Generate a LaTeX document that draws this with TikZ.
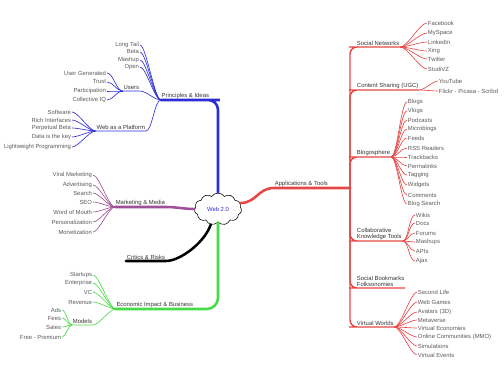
\documentclass[tikz,border=0pt]{standalone}
\usepackage{fontspec}
\setmainfont{Liberation Sans}
\usetikzlibrary{shapes.symbols}
\definecolor{mmred}{RGB}{230,70,70}
\definecolor{mmblue}{RGB}{45,45,215}
\definecolor{mmpurple}{RGB}{160,80,150}
\definecolor{mmgreen}{RGB}{70,220,70}
\begin{document}
\begin{tikzpicture}[x=0.025cm,y=-0.025cm,
    lab/.style={font=\fontsize{4.2}{4.6}\selectfont, inner sep=0.5pt, text=black!80, align=left},
    leaf/.style={lab, text=black!65},
    limb/.style={line width=1.8pt, line cap=round},
    stem/.style={line width=1pt, rounded corners=5pt},
    twig/.style={line width=0.45pt}]
\useasboundingbox (0,0) rectangle (504,365);

% centre
\node[cloud, draw, cloud puffs=11, cloud puff arc=115, aspect=1.6,
      minimum width=1.18cm, minimum height=0.8cm, inner sep=0pt,
      font=\fontsize{4.2}{5}\selectfont, text=mmblue] (web) at (218,209) {Web 2.0};

% right side
\node[lab, anchor=south west] (red) at (274,188) {Applications \& Tools};
\coordinate (rt) at (350,188);
\draw[limb, mmred] (web.15) .. controls +(16,0) and +(-16,0) .. (red.south west) -- (red.south east) -- (rt);

\node[lab, anchor=south west] (r1) at (356,47) {Social Networks};
\node[lab, anchor=south west] (r2) at (356,90) {Content Sharing (UGC)};
\node[lab, anchor=south west] (r3) at (356,157) {Blogosphere};
\node[lab, anchor=south west] (r4) at (356,241) {Collaborative\\Knowledge Tools};
\node[lab, anchor=south west] (r5) at (356,288) {Social Bookmarks\\Folksonomies};
\node[lab, anchor=south west] (r6) at (356,327) {Virtual Worlds};
\foreach \b in {r1,r2,r3,r4,r5,r6}
  \draw[stem, mmred] (rt) |- (\b.south west) -- (\b.south east);

\foreach \y/\t [count=\i] in {23/Facebook, 33/MySpace, 42/LinkedIn, 51/Xing, 59/Twitter, 69/StudiVZ}{
  \node[leaf, anchor=west] (r1-\i) at (427,\y) {\t};
  \draw[twig, mmred] (r1.south east) .. controls +(7,0) and +(-7,0) .. (r1-\i.west);
}
\foreach \y/\t [count=\i] in {81/YouTube, 91/Flickr - Picasa - Scribd}{
  \node[leaf, anchor=west] (r2-\i) at (438,\y) {\t};
  \draw[twig, mmred] (r2.south east) .. controls +(5,0) and +(-5,0) .. (r2-\i.west);
}
\foreach \y/\t [count=\i] in {102/Blogs, 111/Vlogs, 120/Podcasts, 129/Microblogs, 138/Feeds,
    148/RSS Readers, 157/Trackbacks, 166/Permalinks, 175/Tagging, 185/Widgets,
    195/Comments, 204/Blog Search}{
  \node[leaf, anchor=west] (r3-\i) at (407,\y) {\t};
  \draw[twig, mmred] (r3.south east) .. controls +(6,0) and +(-6,0) .. (r3-\i.west);
}
\foreach \y/\t [count=\i] in {215/Wikis, 223/Docs, 233/Forums, 242/Mashups, 251/APIs, 261/Ajax}{
  \node[leaf, anchor=west] (r4-\i) at (415,\y) {\t};
  \draw[twig, mmred] (r4.south east) .. controls +(6,0) and +(-6,0) .. (r4-\i.west);
}
\foreach \y/\t [count=\i] in {292/Second Life, 302/Web Games, 312/Avatars (3D), 320/Metaverse,
    328/Virtual Economies, 337/Online Communities (MMO), 346/Simulations, 355/Virtual Events}{
  \node[leaf, anchor=west] (r6-\i) at (417,\y) {\t};
  \draw[twig, mmred] (r6.south east) .. controls +(6,0) and +(-6,0) .. (r6-\i.west);
}

% left side
\node[lab, anchor=south east] (blue) at (210,100) {Principles \& Ideas};
\draw[limb, mmblue, rounded corners=7pt] (web.north) |- (blue.south east) -- (blue.south west);
\node[lab, anchor=south east] (b1) at (140,91) {Users};
\node[lab, anchor=south east] (b2) at (146,131) {Web as a Platform};
\foreach \b in {b1,b2}
  \draw[twig, mmblue] (blue.south west) .. controls +(-6,0) and +(6,0) .. (\b.south east) -- (\b.south west);
\foreach \y/\t [count=\i] in {45/Long Tail, 52/Beta, 60/Mashup, 67/Open}{
  \node[leaf, anchor=east] (b0-\i) at (140,\y) {\t};
  \draw[twig, mmblue] (blue.south west) .. controls +(-6,0) and +(6,0) .. (b0-\i.east);
}
\foreach \y/\t [count=\i] in {73/User Generated, 82/Trust, 91/Participation, 100/Collective IQ}{
  \node[leaf, anchor=east] (b1-\i) at (107,\y) {\t};
  \draw[twig, mmblue] (b1.south west) .. controls +(-6,0) and +(6,0) .. (b1-\i.east);
}
\foreach \y/\t [count=\i] in {112/Software, 120/Rich Interfaces, 128/Perpetual Beta,
    137/Data is the key, 147/Lightweight Programming}{
  \node[leaf, anchor=east] (b2-\i) at (72,\y) {\t};
  \draw[twig, mmblue] (b2.south west) .. controls +(-6,0) and +(6,0) .. (b2-\i.east);
}

\node[lab, anchor=south east] (purple) at (166,207) {Marketing \& Media};
\draw[limb, mmpurple] (web.west) .. controls +(-10,0) and +(10,0) .. (purple.south east) -- (purple.south west);
\foreach \y/\t [count=\i] in {175/Viral Marketing, 185/Advertising, 193/Search, 202/SEO/SEM,
    212/Word of Mouth, 222/Personalization, 232/Monetization}{
  \node[leaf, anchor=east] (p-\i) at (93,\y) {\t};
  \draw[twig, mmpurple] (purple.south west) .. controls +(-6,0) and +(6,0) .. (p-\i.east);
}

\node[lab, anchor=south east] (crit) at (166,261) {Critics \& Risks};
\draw[limb, black] (web.245) .. controls +(-6,18) and +(14,0) .. (crit.south east) -- (crit.south west);

\node[lab, anchor=south east] (green) at (194,309) {Economic Impact \& Business};
\draw[limb, mmgreen, rounded corners=8pt] (web.south) |- (green.south east) -- (green.south west);
\node[lab, anchor=south east] (g5) at (93,325) {Models};
\draw[twig, mmgreen] (green.south west) .. controls +(-6,0) and +(6,0) .. (g5.south east) -- (g5.south west);
\foreach \y/\t [count=\i] in {275/Startups, 283/Enterprise, 292/VC, 302/Revenue}{
  \node[leaf, anchor=east] (g-\i) at (93,\y) {\t};
  \draw[twig, mmgreen] (green.south west) .. controls +(-6,0) and +(6,0) .. (g-\i.east);
}
\foreach \y/\t [count=\i] in {310/Ads, 318/Fees, 327/Sales, 337/Free - Premium}{
  \node[leaf, anchor=east] (g5-\i) at (62,\y) {\t};
  \draw[twig, mmgreen] (g5.south west) .. controls +(-4,0) and +(4,0) .. (g5-\i.east);
}
\end{tikzpicture}
\end{document}
